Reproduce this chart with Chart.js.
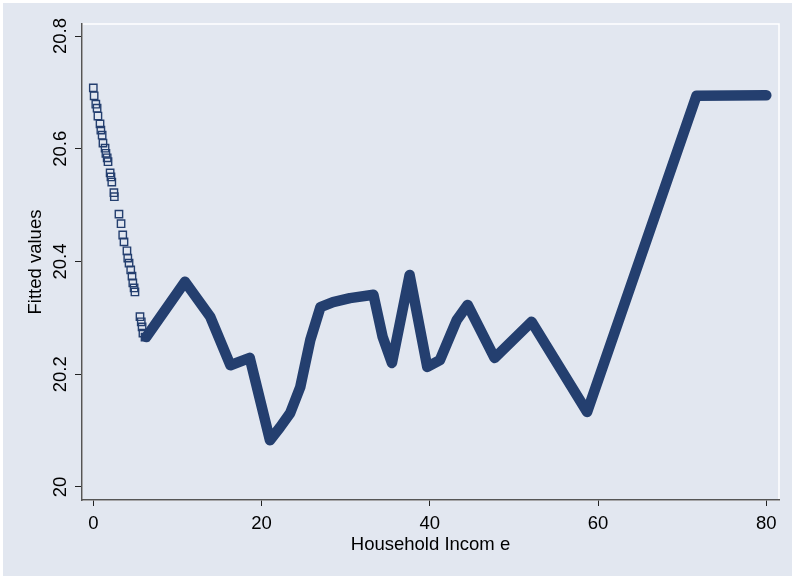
<!DOCTYPE html>
<html><head><meta charset="utf-8">
<script src="https://cdn.jsdelivr.net/npm/chart.js@4"></script>
<style>
html,body{margin:0;padding:0;background:#ffffff;}
#wrap{position:absolute;left:3px;top:3px;width:789px;height:573px;background:#e2e7f0;}
canvas{display:block;}
</style></head><body>
<div id="wrap"><canvas id="c" width="789" height="573"></canvas></div>
<script>
// ---- data ----
const xTicks = [0, 20, 40, 60, 80];
const yTicks = [20, 20.2, 20.4, 20.6, 20.8];
const yTickLabels = ["20", "20.2", "20.4", "20.6", "20.8"];

// sparse low-income observations (hollow squares)
const lowIncome = [0.0, 0.1, 0.3, 0.45, 0.55, 0.8, 0.9, 1.05, 1.15, 1.4, 1.5, 1.65, 1.75, 2.0, 2.1, 2.2, 2.45, 2.5,
  3.05, 3.3, 3.5, 3.65, 4.0, 4.1, 4.25, 4.45, 4.6, 4.7, 4.85, 4.95, 5.55, 5.7, 5.8, 5.9, 6.15];
const lowFitted = [20.708, 20.694, 20.679, 20.672, 20.658, 20.644, 20.633, 20.624, 20.610, 20.601, 20.592, 20.584,
  20.577, 20.557, 20.550, 20.541, 20.522, 20.515, 20.484, 20.467, 20.447, 20.435, 20.419, 20.406, 20.397, 20.385,
  20.374, 20.362, 20.353, 20.346, 20.302, 20.293, 20.284, 20.273, 20.266];

// dense observations (solid band)
const income = [6.3, 10.9, 13.9, 16.3, 18.6, 21.0, 22.2, 23.4, 24.6, 25.8, 27.0, 28.5, 30.5, 33.3, 34.4, 35.5,
  37.6, 39.7, 41.2, 43.2, 44.5, 47.7, 52.1, 58.7, 71.7, 80.0];
const fitted = [20.266, 20.364, 20.302, 20.216, 20.229, 20.083, 20.106, 20.131, 20.177, 20.261, 20.319, 20.328,
  20.335, 20.341, 20.266, 20.220, 20.376, 20.213, 20.225, 20.296, 20.323, 20.229, 20.293, 20.133, 20.694, 20.695];

const navy = '#243f6f';
const FONT = {family: '"Liberation Sans", Arial, Helvetica, sans-serif', size: 18.5};

const plotBorder = {
  id: 'plotBorder',
  beforeDraw(chart) {
    const {ctx, chartArea: a} = chart;
    ctx.save();
    ctx.strokeStyle = '#ffffff';
    ctx.lineWidth = 1.5;
    ctx.strokeRect(a.left, a.top, a.right - a.left, a.bottom - a.top);
    ctx.restore();
  }
};

new Chart(document.getElementById('c'), {
  type: 'scatter',
  data: {
    datasets: [
      {
        data: lowIncome.map((x, i) => ({x, y: lowFitted[i]})),
        showLine: false,
        pointStyle: 'rect',
        pointRadius: 5.2,
        pointBorderWidth: 1.4,
        pointBorderColor: navy,
        pointBackgroundColor: 'rgba(0,0,0,0)'
      },
      {
        data: income.map((x, i) => ({x, y: fitted[i]})),
        showLine: true,
        borderColor: navy,
        borderWidth: 10.5,
        borderJoinStyle: 'round',
        borderCapStyle: 'round',
        pointRadius: 0,
        tension: 0
      }
    ]
  },
  options: {
    responsive: false,
    animation: false,
    devicePixelRatio: 1,
    layout: {padding: {top: 21, right: 13, bottom: 0, left: 0}},
    plugins: {legend: {display: false}, tooltip: {enabled: false}},
    scales: {
      x: {
        type: 'linear',
        min: -1.343,
        max: 81.51,
        afterBuildTicks: s => { s.ticks = xTicks.map(v => ({value: v})); },
        afterFit: s => { s.height = 76; },
        ticks: {font: FONT, color: '#000', padding: 6.4, maxRotation: 0, minRotation: 0, autoSkip: false,
          callback: v => String(v)},
        grid: {drawOnChartArea: false, drawTicks: true, tickLength: 6, tickColor: '#222', tickWidth: 1},
        border: {display: true, color: '#555', width: 1.5},
        title: {display: true, text: 'Household Incom e', font: FONT, color: '#000', padding: {top: 0, bottom: 19.9}}
      },
      y: {
        type: 'linear',
        min: 19.9769,
        max: 20.8213,
        afterBuildTicks: s => { s.ticks = yTicks.map(v => ({value: v})); },
        afterFit: s => { s.width = 79; },
        ticks: {font: FONT, color: '#000', padding: -3.5, minRotation: 90, maxRotation: 90, crossAlign: 'center',
          autoSkip: false, callback: (v, i) => yTickLabels[i]},
        grid: {drawOnChartArea: false, drawTicks: true, tickLength: 7, tickColor: '#222', tickWidth: 1},
        border: {display: true, color: '#555', width: 1.5},
        title: {display: true, text: 'Fitted values', font: FONT, color: '#000', padding: {top: 21.9, bottom: 0}}
      }
    }
  },
  plugins: [plotBorder]
});
</script>
</body></html>
